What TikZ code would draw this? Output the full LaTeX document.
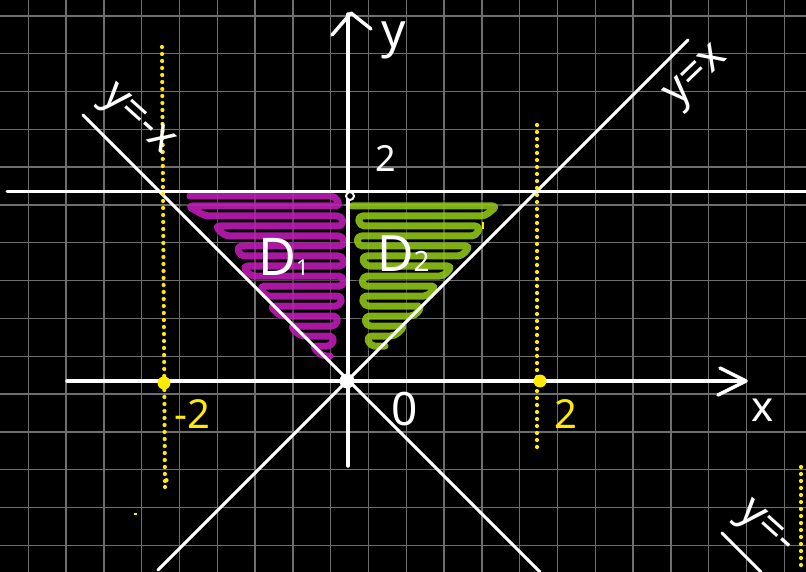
\documentclass[tikz,border=0pt]{standalone}
\usepackage{fontspec}
\setmainfont{Noto Sans}
\definecolor{gridgray}{RGB}{110,110,110}
\definecolor{hlyellow}{RGB}{255,235,0}
\definecolor{magscr}{RGB}{200,28,190}
\definecolor{grnscr}{RGB}{150,205,25}
\tikzset{
  whiteline/.style={white,line width=3pt,line cap=round},
  axisline/.style={white,line width=3.5pt,line cap=round,line join=round},
  ydots/.style={hlyellow,line width=4.2pt,line cap=round,dash pattern=on 0pt off 7pt},
  lbl/.style={white,inner sep=0pt},
  ylbl/.style={hlyellow,inner sep=0pt,font=\bfseries},
  scribble/.style={line width=7pt,line cap=round,line join=round,rounded corners=4.5pt,opacity=0.85,
    preaction={draw,line width=12pt,opacity=0.35}},
}
\begin{document}
\begin{tikzpicture}[x=1pt,y={(0pt,-1pt)}]
\fill[black] (0,0) rectangle (806,572);
\useasboundingbox (0,0) rectangle (806,572);
% grid
\foreach \k in {0,...,20} \draw[gridgray,line width=1.4pt] ({28.3+37.8*\k},0) -- ({28.3+37.8*\k},572);
\foreach \k in {0,...,14} \draw[gridgray,line width=1.4pt] (0,{16+37.8*\k}) -- (806,{16+37.8*\k});
% scribbles
\draw[scribble,magscr] (190,196)--(335,196)--(340,206)--(188,206)--(205,216)--(342,216)--(343,226)--(215,226)--(225,236)--(343,236)--(344,246)--(237,246)--(240,256)--(343,256)--(344,266)--(243,266)--(250,276)--(343,276)--(344,286)--(260,286)--(265,296)--(342,296)--(340,306)--(270,306)--(280,316)--(338,316)--(336,326)--(290,326)--(300,336)--(334,336)--(332,346)--(312,346)--(322,356)--(330,356);
\draw[scribble,grnscr] (352,206)--(497,206)--(485,216)--(358,216)--(360,226)--(480,226)--(476,236)--(357,236)--(358,246)--(470,246)--(462,256)--(362,256)--(365,266)--(452,266)--(444,276)--(363,276)--(362,286)--(436,286)--(428,296)--(362,296)--(364,306)--(422,306)--(415,316)--(365,316)--(366,326)--(405,326)--(395,336)--(367,336)--(370,346)--(385,346);
% lines
\coordinate (O) at (347,381);
\draw[whiteline] (7,192) -- (806,192);
\draw[whiteline] (158,570) -- (688,40);
\draw[whiteline] (83,115) -- (540,572);
\draw[whiteline] (722,533) -- (761,572);
% axes
\draw[axisline] (67,381) -- (745,381);
\draw[axisline] (720,368) -- (746,381) -- (718,395);
\draw[axisline] (348,466) -- (348,14);
\draw[axisline] (332,35) -- (351,13) -- (371,29);
% points
\fill[white] (O) circle (7.5);
\draw[white,line width=2pt,fill=black] (350,196) circle (4);
% yellow dotted lines
\draw[ydots] (162,47) -- (165,487);
\draw[ydots] (165,487) -- (167,478);
\draw[ydots] (537,125) -- (537,453);
\draw[ydots] (801,467) -- (801,572);
\fill[hlyellow] (164,383) circle (6.5);
\fill[hlyellow] (540,381) circle (6.5);
\draw[hlyellow,line width=1.5pt] (134,514) -- (137,514);
\draw[hlyellow,line width=1.5pt] (483,222) -- (483,229);
% labels
\node[lbl] (ylab) at (394,40) {\fontsize{48}{48}\selectfont y};
\node[lbl] (two) at (386,158) {\fontsize{36}{36}\selectfont 2};
\node[lbl,anchor=base west] (d1) at (258,276) {\fontsize{52}{52}\selectfont D\fontsize{22}{22}\selectfont 1};
\node[lbl,anchor=base west] (d2) at (377,271) {\fontsize{50}{50}\selectfont D\fontsize{28}{28}\selectfont 2};
\node[lbl] (zero) at (405,409) {\fontsize{46}{46}\selectfont 0};
\node[lbl] (xlab) at (763,410) {\fontsize{42}{42}\selectfont x};
\node[ylbl] (m2) at (192,414) {\fontsize{40}{40}\selectfont -2};
\node[ylbl] (p2) at (566,414) {\fontsize{40}{40}\selectfont 2};
\node[lbl,rotate=-42] (ynx) at (136,122) {\fontsize{44}{44}\selectfont y=-x};
\node[lbl,rotate=44] (yx) at (698,78) {\fontsize{44}{44}\selectfont y=x};
\node[lbl,rotate=-42] (ynx2) at (764,530) {\fontsize{44}{44}\selectfont y=-};
\end{tikzpicture}
\end{document}
